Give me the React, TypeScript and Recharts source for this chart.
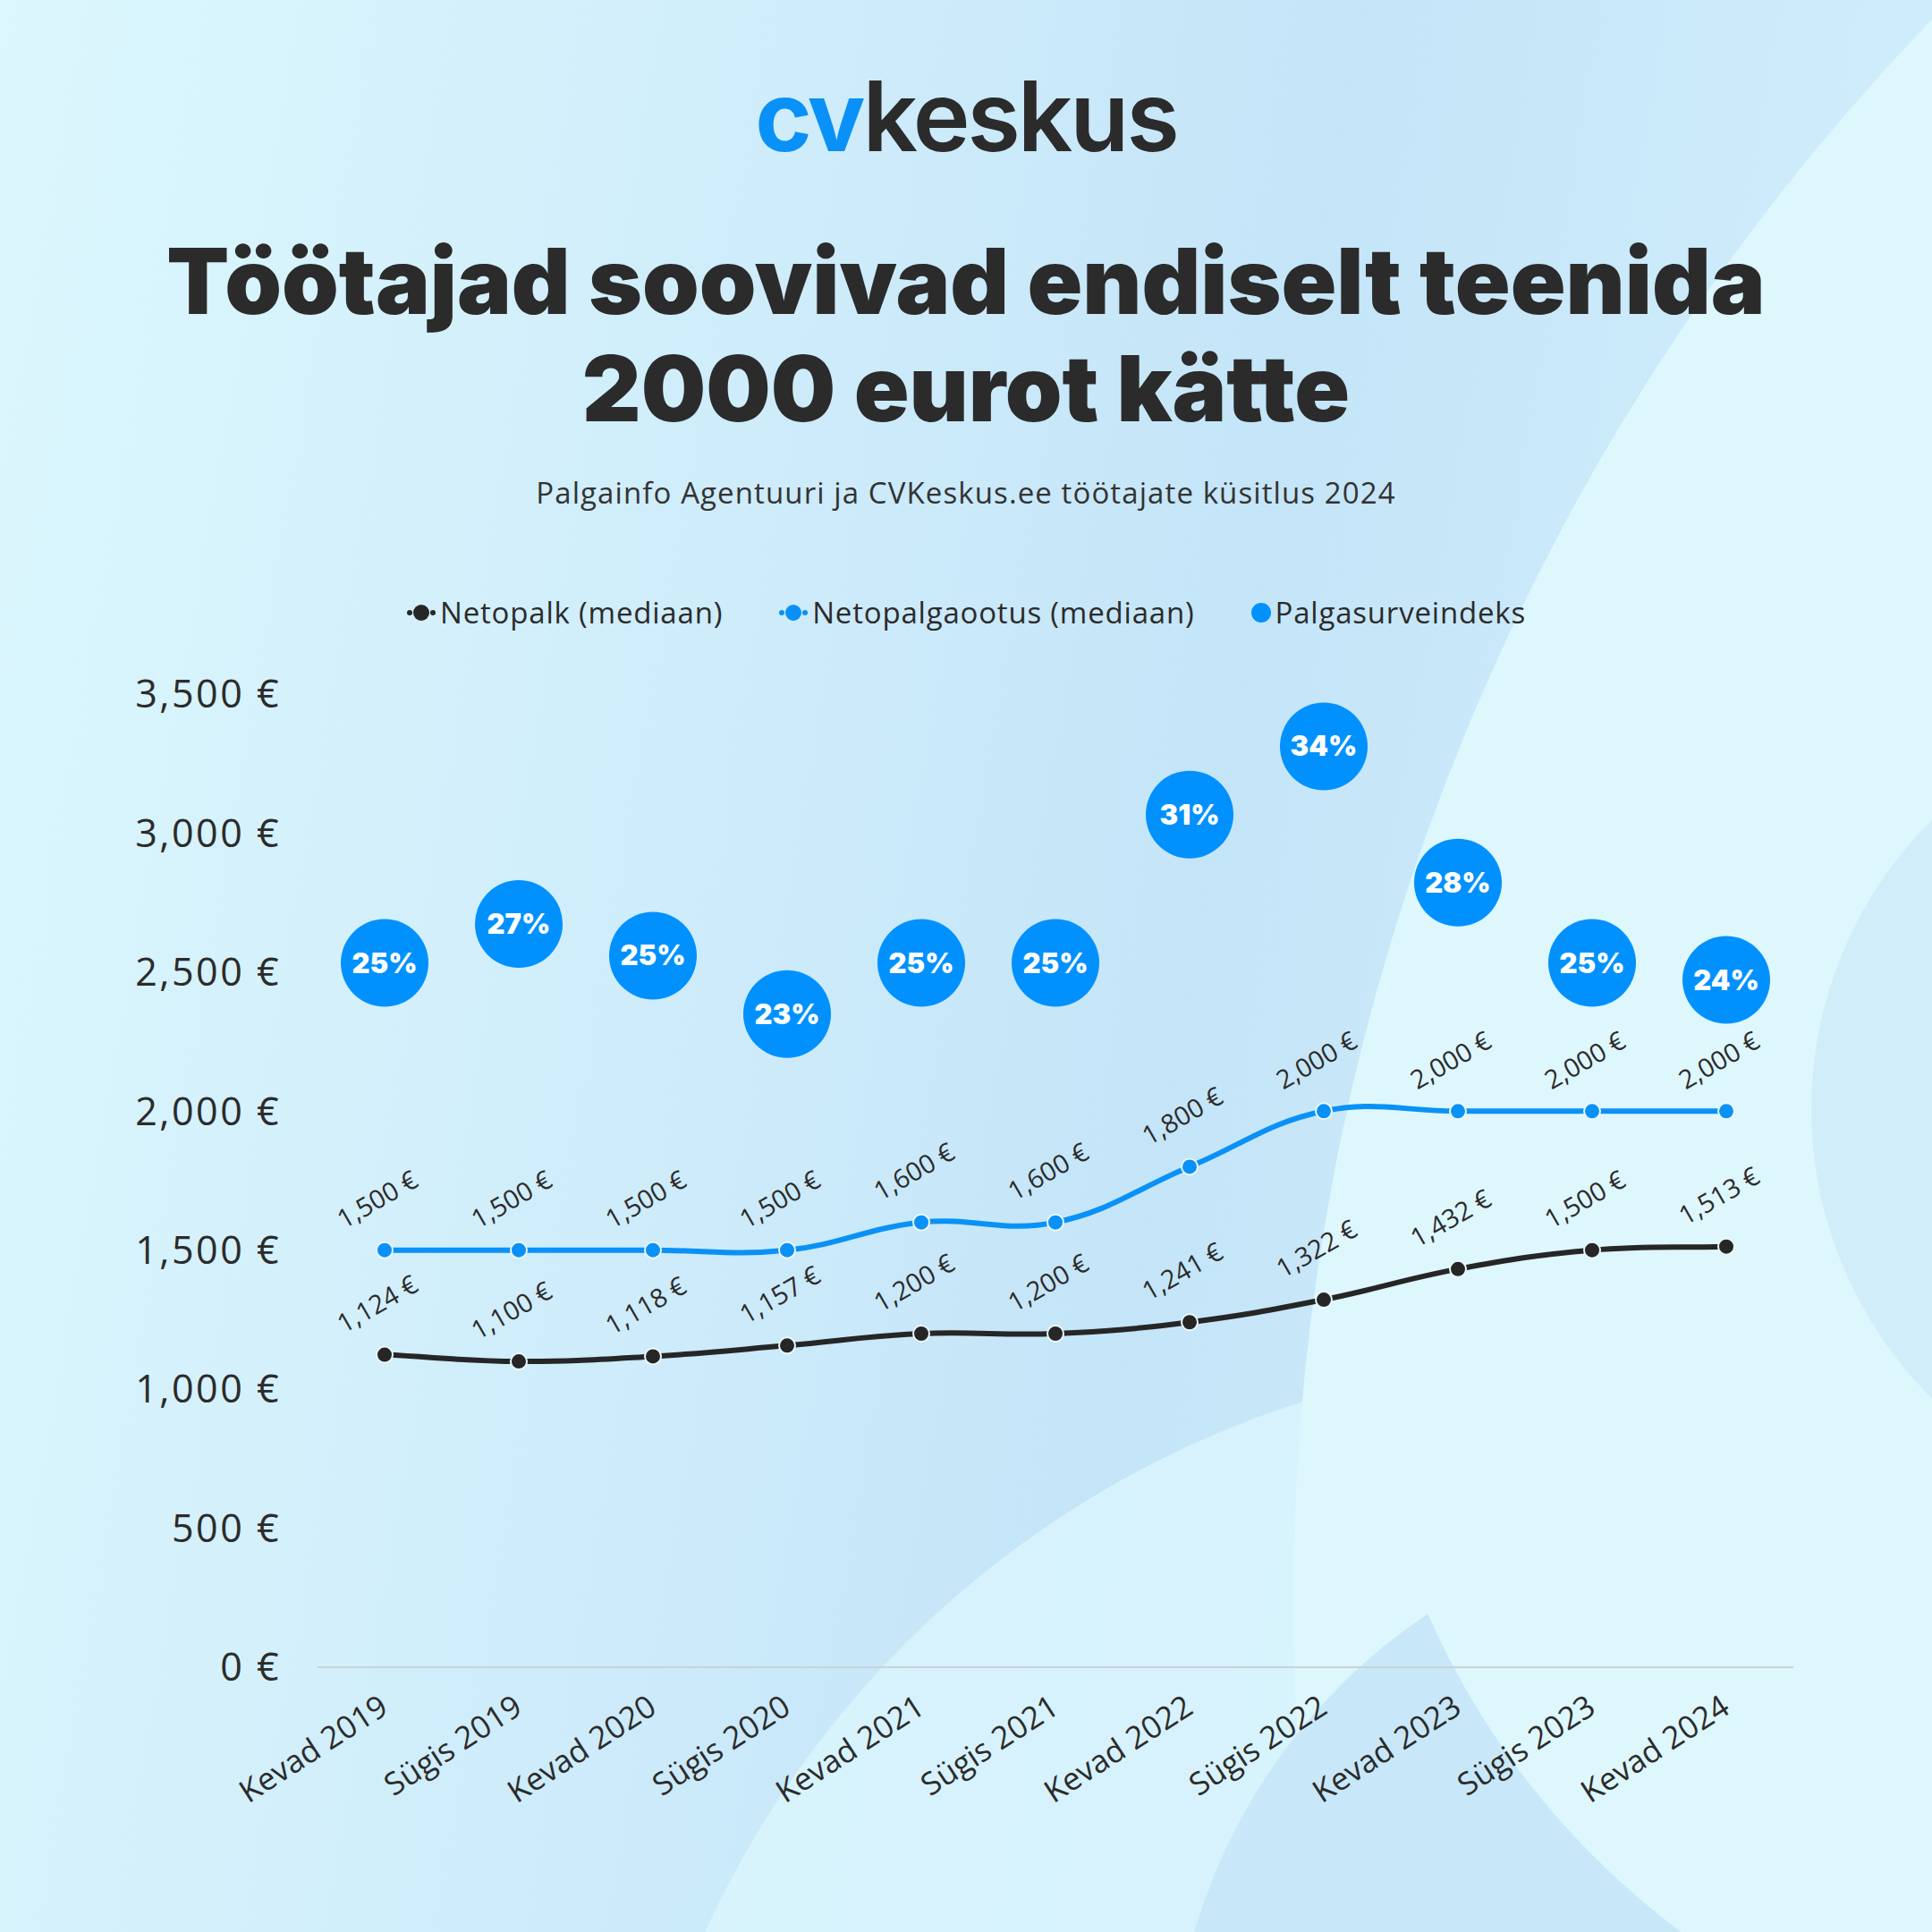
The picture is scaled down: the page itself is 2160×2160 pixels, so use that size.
import React from 'react';
import { LineChart, Line, XAxis, YAxis } from 'recharts';

const periods = [
  'Kevad 2019', 'Sügis 2019', 'Kevad 2020', 'Sügis 2020', 'Kevad 2021', 'Sügis 2021',
  'Kevad 2022', 'Sügis 2022', 'Kevad 2023', 'Sügis 2023', 'Kevad 2024',
];
const netopalk = [1124, 1100, 1118, 1157, 1200, 1200, 1241, 1322, 1432, 1500, 1513];
const netopalgaootus = [1500, 1500, 1500, 1500, 1600, 1600, 1800, 2000, 2000, 2000, 2000];
// wage pressure index, % (bubble heights suggest unrounded values)
const palgasurveindeks = [25.1, 26.7, 25.4, 23, 25.1, 25.1, 31.2, 34, 28.4, 25.1, 24.4];
const yTicks = [0, 500, 1000, 1500, 2000, 2500, 3000, 3500];

const data = periods.map((p, i) => ({
  period: p,
  netopalk: netopalk[i],
  ootus: netopalgaootus[i],
  indeks: palgasurveindeks[i],
}));

const BLUE = '#0a91f7';
const DARK = '#262626';
const FONT = '"Open Sans", "Noto Sans", sans-serif';
const HEAVY = 'Inter, "Noto Sans", sans-serif';

const euro = (v: number) => `${v.toLocaleString('en-US')} €`;

// chart.js style spline (tension 0.4)
const tensionCurve = (context: any) => {
  let pts: number[][] = [];
  return {
    areaStart() {},
    areaEnd() {},
    lineStart() { pts = []; },
    point(x: number, y: number) { pts.push([+x, +y]); },
    lineEnd() {
      const n = pts.length;
      if (!n) return;
      const t = 0.4;
      const cps = pts.map((p, i) => {
        const prev = pts[i - 1] || p;
        const next = pts[i + 1] || p;
        const d01 = Math.hypot(p[0] - prev[0], p[1] - prev[1]);
        const d12 = Math.hypot(next[0] - p[0], next[1] - p[1]);
        const sum = d01 + d12 || 1;
        const fa = (t * d01) / sum;
        const fb = (t * d12) / sum;
        return {
          px: p[0] - fa * (next[0] - prev[0]),
          py: p[1] - fa * (next[1] - prev[1]),
          nx: p[0] + fb * (next[0] - prev[0]),
          ny: p[1] + fb * (next[1] - prev[1]),
        };
      });
      context.moveTo(pts[0][0], pts[0][1]);
      for (let i = 1; i < n; i++) {
        context.bezierCurveTo(cps[i - 1].nx, cps[i - 1].ny, cps[i].px, cps[i].py, pts[i][0], pts[i][1]);
      }
    },
  };
};

const ValueLabel = (props: any) => {
  const { x, y, value } = props;
  const lx = x - 3;
  const ly = y - 48;
  return (
    <text x={lx} y={ly} transform={`rotate(-30 ${lx} ${ly})`} textAnchor="middle"
      fontFamily={FONT} fontSize={29} fill="#2b2b2b">
      {euro(value)}
    </text>
  );
};

const Bubble = (props: any) => {
  const { cx, cy, value, index } = props;
  return (
    <g key={`b${index}`}>
      <circle cx={cx} cy={cy} r={49} fill="#0091ff" />
      <text x={cx} y={cy + 11} textAnchor="middle" fontFamily={HEAVY} fontWeight={900}
        fontSize={31} fill="#fff">
        {Math.round(value)}%
      </text>
    </g>
  );
};

const XTick = (props: any) => {
  const { x, y, payload } = props;
  const tx = x + 6;
  const ty = y + 42;
  return (
    <text x={tx} y={ty} transform={`rotate(-33 ${tx} ${ty})`} textAnchor="end"
      fontFamily={FONT} fontSize={35} fill="#2b2b2b">
      {payload.value}
    </text>
  );
};

const LegendIcon = ({ color }: { color: string }) => (
  <svg width={34} height={20} style={{ marginRight: 4 }}>
    <circle cx={4} cy={10} r={3} fill={color} />
    <circle cx={17} cy={10} r={9} fill={color} />
    <circle cx={30} cy={10} r={3} fill={color} />
  </svg>
);

const legendText = { fontFamily: FONT, fontSize: 33, letterSpacing: 0.8, color: '#2b2b2b' };

const App = () => {
  return (
    <div style={{
      position: 'absolute', left: 0, top: 0, width: 2160, height: 2160, overflow: 'hidden',
      background: 'linear-gradient(100deg, #dcf7fd 0%, #cdebfa 40%, #c4e5f8 60%, #d6f1fc 100%)',
    }}>
      {/* background shapes */}
      <div style={{ position: 'absolute', left: 1791 - 1102, top: 2617 - 1102, width: 2204, height: 2204, borderRadius: '50%', background: '#dbf5fd', opacity: 0.8 }} />
      <div style={{ position: 'absolute', left: 3995 - 2549, top: 1791 - 2549, width: 5098, height: 5098, borderRadius: '50%', background: '#def7fd' }} />
      <div style={{ position: 'absolute', left: 1956 - 647, top: 2342 - 647, width: 1294, height: 1294, borderRadius: '50%', background: '#c8e8f9' }} />
      <div style={{ position: 'absolute', left: 2411 - 890, top: 1446 - 890, width: 1780, height: 1780, borderRadius: '50%', background: '#def7fd' }} />
      <div style={{ position: 'absolute', left: 2480 - 455, top: 1240 - 455, width: 910, height: 910, borderRadius: '50%', background: '#d2edfa' }} />

      {/* logo */}
      <div style={{ position: 'absolute', left: 0, top: 70, width: 2160, textAlign: 'center', fontFamily: HEAVY, fontWeight: 600, fontSize: 108, letterSpacing: -3, lineHeight: '120px' }}>
        <span style={{ color: '#0a91f7', fontWeight: 700 }}>cv</span>
        <span style={{ color: '#2b2b2b' }}>keskus</span>
      </div>

      {/* title */}
      <div style={{ position: 'absolute', left: 0, top: 254, width: 2160, textAlign: 'center', fontFamily: HEAVY, fontWeight: 900, fontSize: 102, lineHeight: '120px', color: '#2b2b2b' }}>
        Töötajad soovivad endiselt teenida<br />2000 eurot kätte
      </div>

      <div style={{ position: 'absolute', left: 0, top: 530, width: 2160, textAlign: 'center', fontFamily: FONT, fontSize: 33, letterSpacing: 1.1, color: '#333', lineHeight: '42px' }}>
        Palgainfo Agentuuri ja CVKeskus.ee töötajate küsitlus 2024
      </div>

      {/* legend */}
      <div style={{ position: 'absolute', left: 0, top: 662, width: 2160, display: 'flex', justifyContent: 'center', alignItems: 'center', gap: 62, lineHeight: '46px' }}>
        <div style={{ display: 'flex', alignItems: 'center' }}>
          <LegendIcon color={DARK} /><span style={legendText}>Netopalk (mediaan)</span>
        </div>
        <div style={{ display: 'flex', alignItems: 'center' }}>
          <LegendIcon color={BLUE} /><span style={legendText}>Netopalgaootus (mediaan)</span>
        </div>
        <div style={{ display: 'flex', alignItems: 'center' }}>
          <svg width={24} height={24} style={{ marginRight: 4 }}><circle cx={12} cy={12} r={11} fill="#0091ff" /></svg>
          <span style={legendText}>Palgasurveindeks</span>
        </div>
      </div>

      <div style={{ position: 'absolute', left: 0, top: 0 }}>
        <LineChart width={2160} height={2160} data={data}
          margin={{ top: 776, right: 155, bottom: 236, left: 0 }}>
          <XAxis dataKey="period" padding={{ left: 75, right: 75 }} height={60}
            axisLine={{ stroke: '#c9d3da', strokeWidth: 2 }} tickLine={false}
            tick={<XTick />} interval={0} />
          <YAxis width={355} domain={[0, 3500]} ticks={yTicks} axisLine={false} tickLine={false}
            tickSize={0} tickMargin={41}
            tick={{ fontFamily: FONT, fontSize: 43, letterSpacing: 2.5, fill: '#2b2b2b' }}
            tickFormatter={(v: number) => euro(v)} />
          <YAxis yAxisId="pct" orientation="right" hide domain={[-3.85, 36.15]} />
          <Line dataKey="indeks" yAxisId="pct" stroke="none" dot={<Bubble />} activeDot={false}
            isAnimationActive={false} />
          <Line dataKey="netopalk" type={tensionCurve as any} stroke={DARK} strokeWidth={6}
            dot={{ r: 9, fill: DARK, stroke: '#eaf8fd', strokeWidth: 2 }} activeDot={false}
            label={<ValueLabel />} isAnimationActive={false} />
          <Line dataKey="ootus" type={tensionCurve as any} stroke={BLUE} strokeWidth={6}
            dot={{ r: 9, fill: BLUE, stroke: '#eaf8fd', strokeWidth: 2 }} activeDot={false}
            label={<ValueLabel />} isAnimationActive={false} />
        </LineChart>
      </div>
    </div>
  );
};

export default App;
